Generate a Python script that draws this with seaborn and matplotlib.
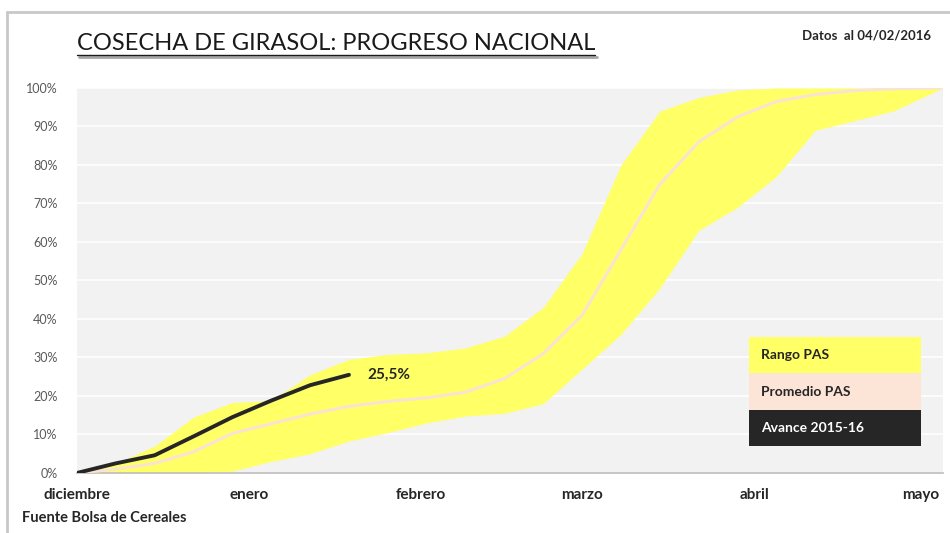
import pandas as pd
import numpy as np
import matplotlib
matplotlib.use("Agg")
import matplotlib.pyplot as plt
import seaborn as sns
from matplotlib.lines import Line2D
from matplotlib.patches import Rectangle

# weekly points of the season (Dec 2015 - May 2016)
fechas = ["2015-12-01", "2015-12-08", "2015-12-15", "2015-12-22", "2015-12-29",
          "2016-01-05", "2016-01-12", "2016-01-19", "2016-01-26", "2016-02-02",
          "2016-02-09", "2016-02-16", "2016-02-23", "2016-03-01", "2016-03-08",
          "2016-03-15", "2016-03-22", "2016-03-29", "2016-04-05", "2016-04-12",
          "2016-04-19", "2016-04-26", "2016-05-05"]
rango_max = [0, 2.5, 7, 14.5, 18.3, 18.8, 25.5, 29.5, 30.8, 31.2, 32.5, 35.5,
             43, 57, 80, 94, 97.5, 99.5, 100, 100, 100, 100, 100]
rango_min = [0, 0, 0, 0, 0.5, 3, 5, 8.3, 10.5, 13, 14.8, 15.5,
             18, 27, 36, 48, 63, 69, 77, 89, 91.5, 94, 100]
promedio = [0, 1, 2.5, 5.5, 10.3, 12.8, 15.3, 17.3, 18.6, 19.5, 21, 24.5,
            31, 41, 58, 75, 86, 92.5, 96.5, 98.3, 99.3, 99.8, 100]
# current campaign progress
fechas_avance = fechas[:8]
avance = [0, 2.5, 4.6, 9.5, 14.5, 18.8, 22.8, 25.5]

meses = ["diciembre", "enero", "febrero", "marzo", "abril", "mayo"]
meses_fechas = ["2015-12-01", "2016-01-01", "2016-02-01", "2016-03-01", "2016-04-01", "2016-05-01"]

df = pd.DataFrame({"fecha": pd.to_datetime(fechas), "max": rango_max,
                   "min": rango_min, "prom": promedio})
df_av = pd.DataFrame({"fecha": pd.to_datetime(fechas_avance), "avance": avance})

sns.set_theme(style="whitegrid", rc={"axes.facecolor": "#F2F2F2",
                                     "grid.color": "white", "grid.linewidth": 1.2})
plt.rcParams["font.family"] = ["Lato", "DejaVu Sans"]

fig = plt.figure(figsize=(9.5, 5.33), dpi=100)
ax = fig.add_axes([0.081, 0.1126, 0.9116, 0.7223])

ax.fill_between(df["fecha"], df["min"], df["max"], color="#FFFF66", linewidth=0, zorder=2)
sns.lineplot(data=df, x="fecha", y="prom", ax=ax, color="#FBE3D4", linewidth=2.2, zorder=3)
sns.lineplot(data=df_av, x="fecha", y="avance", ax=ax, color="#262626", linewidth=2.8, zorder=4)

ult = df_av.iloc[-1]
ax.annotate("25,5%", (ult["fecha"], ult["avance"]), xytext=(13, 0), textcoords="offset points",
            va="center", ha="left", fontsize=11, fontweight="bold", color="#262626")

ax.set_xlim(pd.Timestamp("2015-12-01"), pd.Timestamp("2016-05-05"))
ax.set_ylim(0, 100)
ax.set_yticks(range(0, 101, 10))
ax.set_yticklabels([f"{v}%" for v in range(0, 101, 10)], fontsize=9, color="#595959")
ax.set_xticks(pd.to_datetime(meses_fechas))
ax.set_xticklabels(meses, fontsize=11, fontweight="bold", color="#262626")
ax.grid(axis="x", visible=False)
ax.set_xlabel("")
ax.set_ylabel("")
for s in ["top", "right", "left"]:
    ax.spines[s].set_visible(False)
ax.spines["bottom"].set_color("#BFBFBF")
ax.tick_params(axis="x", length=4, color="#BFBFBF", pad=7)
ax.tick_params(axis="y", length=0, pad=14)

# legend boxes
leyenda = [("Rango PAS", "#FFFF66", "#262626"),
           ("Promedio PAS", "#FCE4D6", "#262626"),
           ("Avance 2015-16", "#262626", "white")]
x0 = (749 - 77) / 866
w = (921 - 749) / 866
h = 36.5 / 385
y_top = (473 - 337) / 385
for i, (lab, fc, tc) in enumerate(leyenda):
    yb = y_top - (i + 1) * h
    ax.add_patch(Rectangle((x0, yb), w, h, transform=ax.transAxes, facecolor=fc,
                           edgecolor="none", zorder=5))
    ax.text(x0 + 0.014, yb + h / 2, lab, transform=ax.transAxes, fontsize=10,
            fontweight="bold", color=tc, va="center", ha="left", zorder=6)

# titles and texts
t = fig.text(77 / 950, 1 - 43 / 533, "COSECHA DE GIRASOL: PROGRESO NACIONAL",
             fontsize=17, color="#1a1a1a", va="center", ha="left")
fig.text(931 / 950, 1 - 35 / 533, "Datos  al 04/02/2016", fontsize=9.5,
         fontweight="bold", color="#262626", va="center", ha="right")
fig.text(22 / 950, 1 - 518 / 533, "Fuente Bolsa de Cereales", fontsize=10.5,
         fontweight="bold", color="#262626", va="center", ha="left")

# frame around chart
fig.add_artist(Line2D([7 / 950, 1], [1 - 12 / 533, 1 - 12 / 533], color="#C8C8C8", linewidth=2))
fig.add_artist(Line2D([7 / 950, 7 / 950], [0, 1 - 12 / 533], color="#C8C8C8", linewidth=2))

# underline title
fig.canvas.draw()
bb = t.get_window_extent()
yl = (bb.y0 - 1) / fig.bbox.height
fig.add_artist(Line2D([bb.x0 / fig.bbox.width + 0.002, bb.x1 / fig.bbox.width + 0.002],
                      [yl - 0.004, yl - 0.004], color="#A6A6A6", linewidth=2))
fig.add_artist(Line2D([bb.x0 / fig.bbox.width, bb.x1 / fig.bbox.width],
                      [yl, yl], color="#1a1a1a", linewidth=1))

fig.savefig("out.png", dpi=100)
